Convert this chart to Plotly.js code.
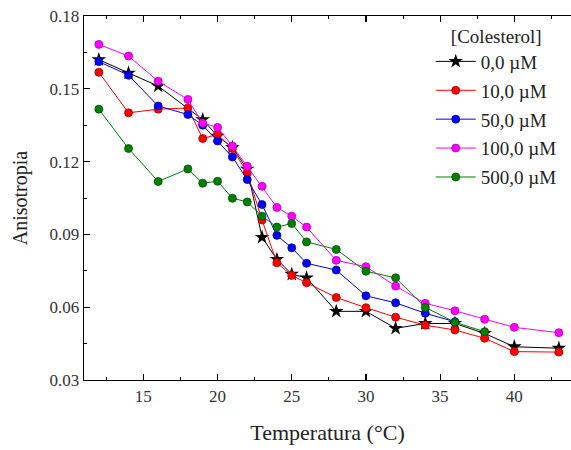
<!DOCTYPE html>
<html>
<head>
<meta charset="utf-8">
<script src="https://cdn.plot.ly/plotly-3.0.1.min.js"></script>
<style>html,body{margin:0;padding:0;overflow:hidden;background:#fff;}</style>
</head>
<body>
<div id="chart" style="width:571px;height:450px;"></div>
<script>
// Temperature (°C) and anisotropy per cholesterol concentration
const tBlack = [12, 14, 16, 19, 20, 21, 22, 23, 24, 25, 26, 28, 30, 32, 34, 36, 38, 40, 43];
const yBlack = [0.1620, 0.1565, 0.1511, 0.1373, 0.1305, 0.1258, 0.1169, 0.0888, 0.0797, 0.0736, 0.0721, 0.0583, 0.0583, 0.0513, 0.0533, 0.0533, 0.0492, 0.0437, 0.0431];

const tRed = [12, 14, 16, 18, 19, 20, 21, 22, 23, 24, 25, 26, 28, 30, 32, 34, 36, 38, 40, 43];
const yRed = [0.1568, 0.1401, 0.1416, 0.1421, 0.1295, 0.1312, 0.1254, 0.1154, 0.0959, 0.0783, 0.0731, 0.0701, 0.0640, 0.0598, 0.0559, 0.0526, 0.0506, 0.0472, 0.0417, 0.0415];

const tBlue = [12, 14, 16, 18, 19, 20, 21, 22, 23, 24, 25, 26, 28, 30, 32, 34, 36];
const yBlue = [0.1612, 0.1556, 0.1429, 0.1394, 0.1350, 0.1285, 0.1219, 0.1126, 0.1023, 0.0896, 0.0845, 0.0781, 0.0753, 0.0647, 0.0618, 0.0575, 0.0540];

const tMagenta = [12, 14, 16, 18, 19, 20, 21, 22, 23, 24, 25, 26, 28, 30, 32, 34, 36, 38, 40, 43];
const yMagenta = [0.1683, 0.1635, 0.1531, 0.1456, 0.1359, 0.1341, 0.1264, 0.1181, 0.1098, 0.1011, 0.0975, 0.0930, 0.0793, 0.0767, 0.0687, 0.0616, 0.0585, 0.0550, 0.0517, 0.0495];

const tGreen = [12, 14, 16, 18, 19, 20, 21, 22, 23, 24, 25, 26, 28, 30, 32, 34, 36, 38];
const yGreen = [0.1416, 0.1254, 0.1118, 0.1170, 0.1111, 0.1119, 0.1049, 0.1034, 0.0975, 0.0930, 0.0945, 0.0869, 0.0838, 0.0748, 0.0721, 0.0599, 0.0538, 0.0499];

const seriesNames = ['0,0 \u00b5M', '10,0 \u00b5M', '50,0 \u00b5M', '100,0 \u00b5M', '500,0 \u00b5M'];
const legendTitle = '[Colesterol]';
const xTitle = 'Temperatura (\u00b0C)';
const yTitle = 'Anisotropia';

const serif = '"Liberation Serif", "DejaVu Serif", serif';

function ballTrace(x, y, name, color, edge, group) {
  return {
    x: x, y: y, name: name, type: 'scatter', mode: 'lines+markers',
    legendgroup: group,
    line: {color: color, width: 1},
    marker: {symbol: 'circle', size: 8, color: color, line: {color: edge, width: 0.8}}
  };
}

const traces = [
  {
    x: tBlack, y: yBlack, name: seriesNames[0], type: 'scatter', mode: 'lines+markers',
    legendgroup: 'g0',
    line: {color: '#000000', width: 1},
    marker: {symbol: 'star', size: 11, color: '#000000', line: {width: 0}}
  },
  ballTrace(tRed, yRed, seriesNames[1], '#ff0000', '#b00000', 'g1'),
  ballTrace(tBlue, yBlue, seriesNames[2], '#0000ff', '#0000a0', 'g2'),
  ballTrace(tMagenta, yMagenta, seriesNames[3], '#ff00ff', '#b000b0', 'g3'),
  ballTrace(tGreen, yGreen, seriesNames[4], '#008000', '#005000', 'g4')
];

const layout = {
  width: 571, height: 450,
  margin: {l: 84, r: 0, t: 16, b: 70},
  paper_bgcolor: '#ffffff', plot_bgcolor: '#ffffff',
  font: {family: serif, color: '#333333', size: 17},
  showlegend: true,
  legend: {
    x: 0.712, y: 0.995, xanchor: 'left', yanchor: 'top',
    bgcolor: 'rgba(0,0,0,0)', borderwidth: 0,
    font: {family: serif, size: 19, color: '#222222'},
    title: {text: legendTitle, side: 'top center', font: {family: serif, size: 19, color: '#222222'}},
    tracegroupgap: 1.2,
    itemwidth: 40
  },
  xaxis: {
    range: [11.0, 43.82],
    showgrid: false, zeroline: false,
    showline: true, linecolor: '#000000', linewidth: 1.3,
    mirror: 'ticks',
    ticks: 'inside', ticklen: 6, tickwidth: 1.2, tickcolor: '#000000',
    tick0: 0, dtick: 5,
    minor: {ticks: 'inside', ticklen: 3, tickwidth: 1, tickcolor: '#000000', dtick: 2.5, tick0: 0, showgrid: false},
    tickfont: {family: serif, size: 17, color: '#333333'},
    title: {text: xTitle, font: {family: serif, size: 22, color: '#222222'}, standoff: 20}
  },
  yaxis: {
    range: [0.03, 0.18],
    showgrid: false, zeroline: false,
    showline: true, linecolor: '#000000', linewidth: 1.3,
    ticks: 'inside', ticklen: 6, tickwidth: 1.2, tickcolor: '#000000',
    tick0: 0, dtick: 0.03, tickformat: '.2f',
    minor: {ticks: 'inside', ticklen: 3, tickwidth: 1, tickcolor: '#000000', dtick: 0.015, tick0: 0, showgrid: false},
    tickfont: {family: serif, size: 17, color: '#333333'},
    title: {text: yTitle, font: {family: serif, size: 20, color: '#222222'}, standoff: 16}
  }
};

Plotly.newPlot('chart', traces, layout, {displayModeBar: false, staticPlot: true});
</script>
</body>
</html>
